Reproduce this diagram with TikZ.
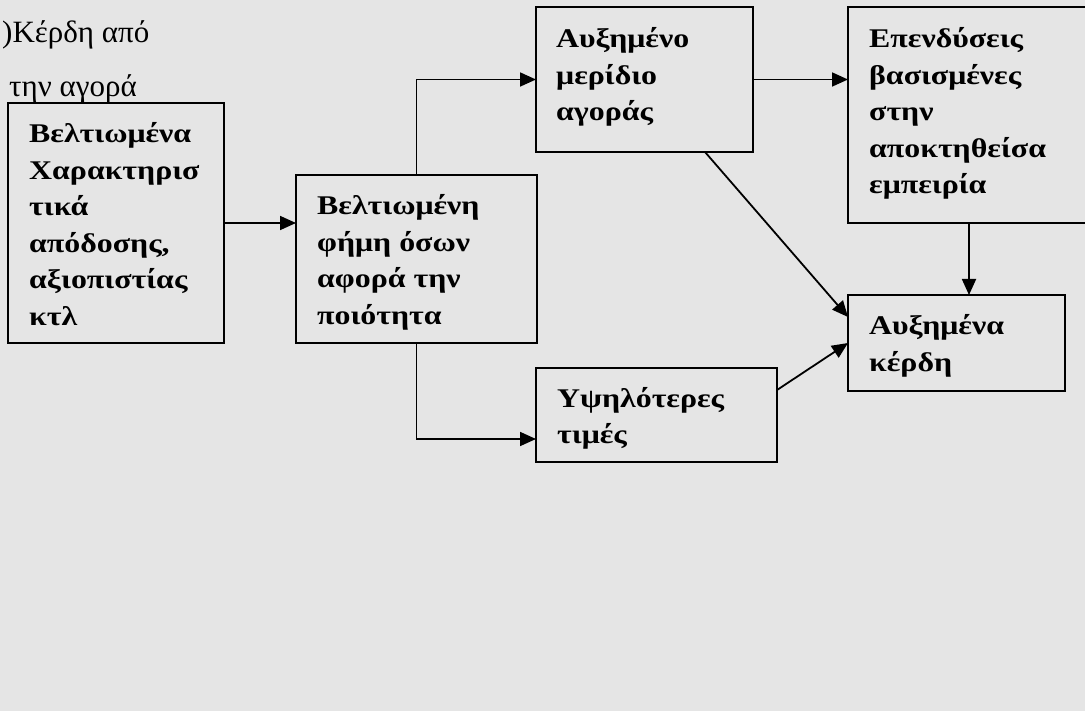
\documentclass[tikz,border=0pt]{standalone}
\usepackage{fontspec}
\setmainfont{Liberation Serif}
\newfontfamily\boxfont[FakeStretch=1.18]{Liberation Serif}
\usetikzlibrary{arrows.meta,calc}
\definecolor{bg}{RGB}{229,229,229}
\tikzset{
  box/.style={draw=black, line width=1.8pt, anchor=north west, inner sep=0pt, outer sep=0pt},
  lbl/.style={anchor=base west, inner sep=0pt, font=\boxfont\fontsize{27}{36.5}\selectfont\bfseries},
  plain/.style={anchor=base west, inner sep=0pt, font=\fontsize{31}{36}\selectfont},
  arr/.style={line width=1.8pt, -{Triangle[length=16pt,width=14pt]}},
}
\newcommand\Ln[1]{\hbox{#1}}
\begin{document}
\begin{tikzpicture}[x=1pt,y=-1pt]
\useasboundingbox (0,0) rectangle (1085,711);
\clip (0,0) rectangle (1085,711);
\fill[bg] (0,0) rectangle (1085,711);

% top-left text
\node[plain] (t1) at (2,43) {)Κέρδη από};
\node[plain] (t2) at (9,97) {την αγορά};

% boxes
\node[box, minimum width=216pt, minimum height=240pt] (A) at (8,103) {};
\node[box, minimum width=241pt, minimum height=168pt] (B) at (296,175) {};
\node[box, minimum width=217pt, minimum height=145pt] (C) at (536,7) {};
\node[box, minimum width=260pt, minimum height=216pt] (D) at (848,7) {};
\node[box, minimum width=217pt, minimum height=96pt] (E) at (848,295) {};
\node[box, minimum width=241pt, minimum height=94pt] (F) at (536,368) {};

% labels
\node[lbl] (tA) at ($(A.north west)+(21,40)$) {\vtop{\Ln{Βελτιωμένα}\Ln{Χαρακτηρισ}\Ln{τικά}\Ln{απόδοσης,}\Ln{αξιοπιστίας}\Ln{κτλ}}};
\node[lbl] (tB) at ($(B.north west)+(21,40)$) {\vtop{\Ln{Βελτιωμένη}\Ln{φήμη όσων}\Ln{αφορά την}\Ln{ποιότητα}}};
\node[lbl] (tC) at ($(C.north west)+(20,41)$) {\vtop{\Ln{Αυξημένο}\Ln{μερίδιο}\Ln{αγοράς}}};
\node[lbl] (tD) at ($(D.north west)+(21,41)$) {\vtop{\Ln{Επενδύσεις}\Ln{βασισμένες}\Ln{στην}\Ln{αποκτηθείσα}\Ln{εμπειρία}}};
\node[lbl] (tE) at ($(E.north west)+(21,40)$) {\vtop{\Ln{Αυξημένα}\Ln{κέρδη}}};
\node[lbl] (tF) at ($(F.north west)+(21,39)$) {\vtop{\Ln{Υψηλότερες}\Ln{τιμές}}};

% connectors
\draw[arr] (A.east) -- (A.east -| B.west);
\draw[arr] (B.north) |- (C.west);
\coordinate (f1) at ($(F.north west)+(0,71)$);
\draw[arr] (B.south) |- (f1);
\draw[arr] (C.east) -- (C.east -| D.west);
\coordinate (c1) at ($(C.south west)+(169,0)$);
\coordinate (e1) at ($(E.north west)+(0,22)$);
\draw[arr] (c1) -- (e1);
\coordinate (f2) at ($(F.north east)+(0,22)$);
\draw[arr] (f2) -- (E.west);
\coordinate (d1) at ($(D.south west)+(121,0)$);
\draw[arr] (d1) -- (d1 |- E.north);
\end{tikzpicture}
\end{document}
